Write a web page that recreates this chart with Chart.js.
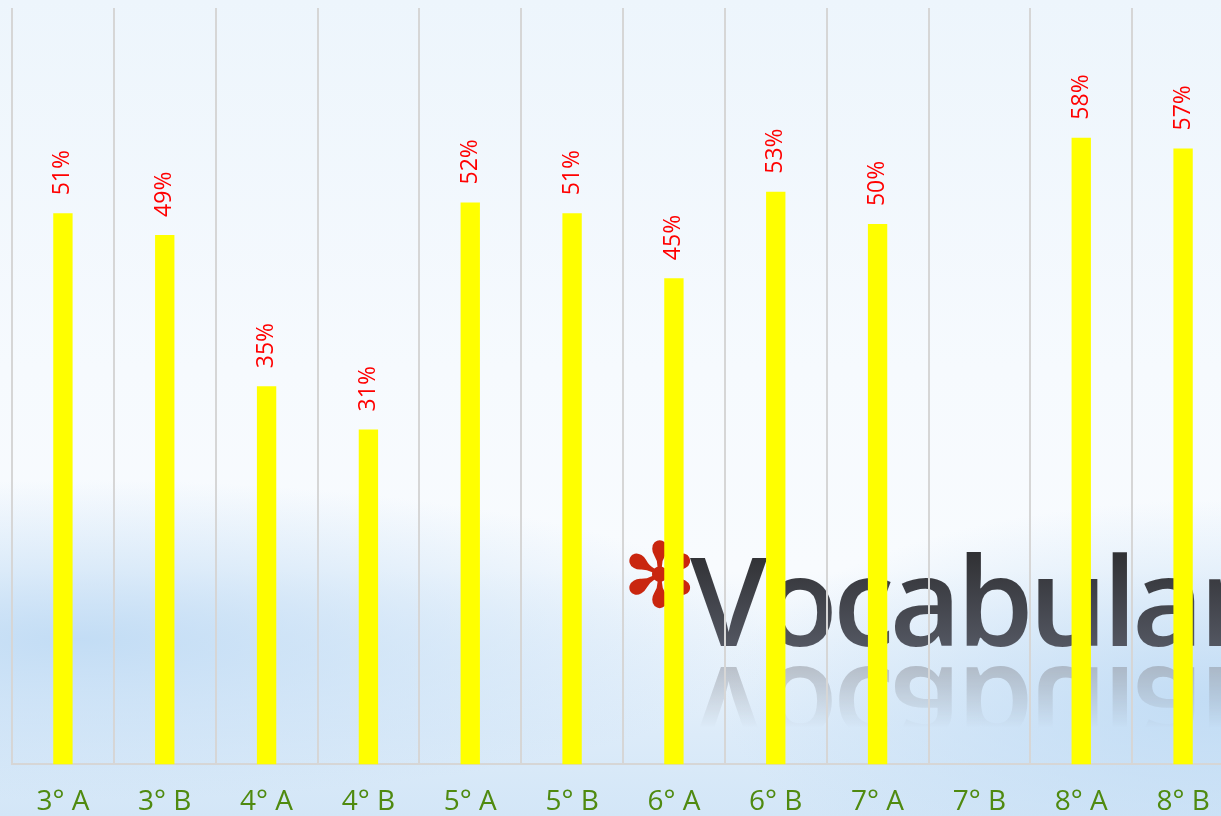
<!DOCTYPE html>
<html>
<head>
<meta charset="utf-8">
<script src="https://cdn.jsdelivr.net/npm/chart.js@4/dist/chart.umd.min.js"></script>
<style>
  html, body { margin: 0; padding: 0; }
  body {
    width: 1221px; height: 816px; overflow: hidden; position: relative;
    background:
      radial-gradient(ellipse 700px 160px at 80px 640px, rgba(190,218,244,0.9), rgba(190,218,244,0) 100%),
      radial-gradient(ellipse 500px 200px at 1221px 700px, rgba(190,218,244,0.9), rgba(190,218,244,0) 100%),
      linear-gradient(to bottom, #edf5fc 0%, #f6fafe 45%, #f8fbfe 70%, #dcebf9 90%, #d3e6f7 100%);
  }
  .mark { position: absolute; font-family: "Open Sans", sans-serif; font-weight: 600; white-space: nowrap; }
  #star { left: 622px; top: 531px; font-family: "DejaVu Sans", sans-serif; font-size: 90px; line-height: 1; color: #c9260f; font-weight: 400; }
  #word {
    left: 690px; top: 536px; font-size: 124px; line-height: 1; letter-spacing: -5px;
    background: linear-gradient(to bottom, #2a2a2c, #585c68);
    -webkit-background-clip: text; background-clip: text; color: transparent;
  }
  #refl {
    left: 690px; top: 777px; font-size: 124px; line-height: 1; letter-spacing: -5px;
    color: #8b8e96; transform: scaleY(-1); transform-origin: 0 0;
    -webkit-mask-image: linear-gradient(to top, rgba(0,0,0,0.6) 0px, rgba(0,0,0,0) 75px);
    mask-image: linear-gradient(to top, rgba(0,0,0,0.6) 0px, rgba(0,0,0,0) 75px);
  }
  canvas { position: absolute; left: 0; top: 0; }
</style>
</head>
<body>
<div class="mark" id="star">✻</div>
<div class="mark" id="word">Vocabular</div>
<div class="mark" id="refl">Vocabular</div>
<canvas id="chart" width="1240" height="840"></canvas>
<script>
const categories = ['3° A', '3° B', '4° A', '4° B', '5° A', '5° B', '6° A', '6° B', '7° A', '7° B', '8° A', '8° B'];
const percentValues = [51, 49, 35, 31, 52, 51, 45, 53, 50, null, 58, 57];

const valueLabels = {
  id: 'valueLabels',
  afterDatasetsDraw(chart) {
    const ctx = chart.ctx;
    const meta = chart.getDatasetMeta(0);
    ctx.save();
    ctx.fillStyle = '#ff0000';
    ctx.font = '23px "Open Sans", sans-serif';
    ctx.textAlign = 'left';
    ctx.textBaseline = 'middle';
    meta.data.forEach((bar, i) => {
      const v = percentValues[i];
      if (v === null) return;
      ctx.save();
      ctx.translate(bar.x, bar.y - 18);
      ctx.rotate(-Math.PI / 2);
      ctx.fillText(v + '%', 0, 0);
      ctx.restore();
    });
    ctx.restore();
  }
};

new Chart(document.getElementById('chart'), {
  type: 'bar',
  data: {
    labels: categories,
    datasets: [{
      data: percentValues,
      backgroundColor: '#ffff00',
      borderWidth: 0,
      barPercentage: 0.19,
      categoryPercentage: 1
    }]
  },
  options: {
    responsive: false,
    animation: false,
    devicePixelRatio: 1,
    layout: { padding: { left: 12, right: 6, top: 8, bottom: 0 } },
    plugins: { legend: { display: false }, tooltip: { enabled: false } },
    scales: {
      x: {
        grid: { color: '#d6d6d6', lineWidth: 2, drawTicks: false },
        border: { color: '#d6d6d6', width: 2 },
        ticks: {
          color: '#4f8a10',
          font: { family: '"Open Sans", sans-serif', size: 28 },
          padding: 21,
          maxRotation: 0,
          autoSkip: false
        }
      },
      y: { display: false, min: 0, max: 70 }
    }
  },
  plugins: [valueLabels]
});
</script>
</body>
</html>
